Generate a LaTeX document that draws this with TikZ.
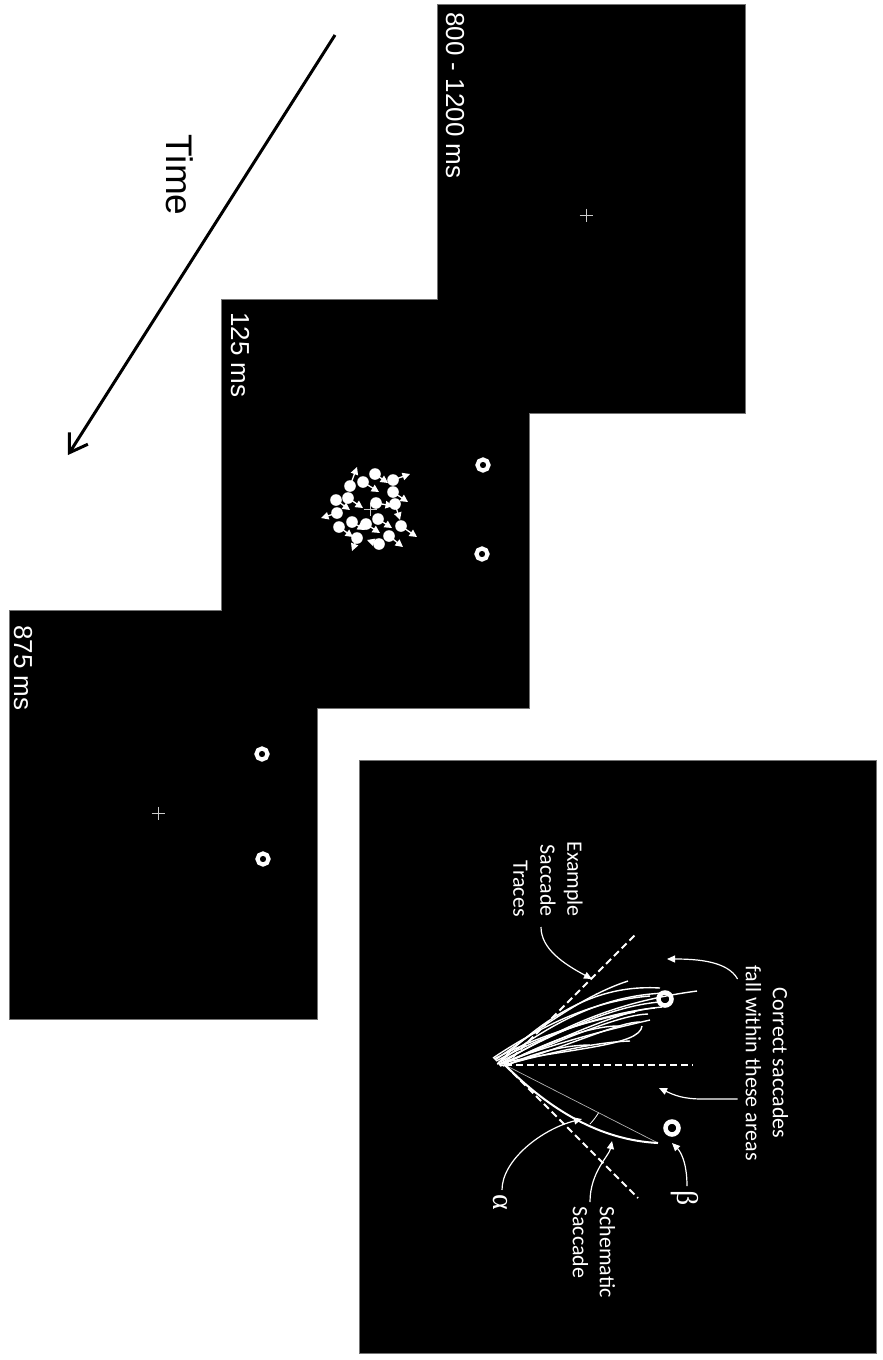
\documentclass[tikz,border=0pt]{standalone}
\usepackage{fontspec}
\setmainfont{Liberation Sans}
\newfontfamily\notefont{Carlito}
\newfontfamily\greekfont{Liberation Serif}
\usetikzlibrary{arrows.meta,calc,positioning,backgrounds}

\begin{document}
\begin{tikzpicture}[
		x=1pt, y=-1pt,
		screen/.style={fill=black, minimum width=307pt, minimum height=408pt,
				inner sep=0pt},
		frame/.style={draw=black!55, line width=1.6pt},
		stamp/.style={text=white, rotate=-90, anchor=west, inner sep=0pt,
				font=\fontsize{26}{30}\selectfont},
		fixmark/.style={draw=white!80!black, line width=0.9pt},
		target/.style={circle, draw=white, line width=4.2pt, minimum size=11pt,
				inner sep=0pt},
		dotarrow/.style={white, line width=1.3pt, -{Triangle[length=7.5pt,width=7.5pt]}},
		note/.style={text=white, rotate=-90, inner sep=0pt,
				font=\notefont\fontsize{22}{27}\selectfont},
		greek/.style={text=white, rotate=-90, inner sep=0pt,
				font=\greekfont\fontsize{30}{30}\selectfont},
		pointer/.style={white, line width=1.2pt, -{Triangle[length=8pt,width=7pt]}},
		bound/.style={white, line width=2pt, dash pattern=on 7pt off 4pt},
		trace/.style={white, line width=1.4pt},
	]
	\useasboundingbox (0,0) rectangle (883,1360);

	% time axis
	\coordinate (t0) at (335,35);
	\coordinate (t1) at (68,455);
	\draw[line width=3pt, -{Straight Barb[length=17pt,width=22pt]}] (t0) -- (t1);
	\node[rotate=-90, font=\fontsize{37}{40}\selectfont] (time) at (180,175) {Time};

	% the three screens of a trial
	\node[screen] (fix) at (591.5,209) {};
	\node[stamp] at (455,12) {800 - 1200 ms};
	\draw[fixmark] (586,215) +(-6.5,0) -- +(6.5,0) +(0,-6.5) -- +(0,6.5);

	\node[screen] (motion) at (375.5,504) {};
	\node[stamp] at (240,312) {125 ms};
	\draw[fixmark] (370,509) +(-6.5,0) -- +(6.5,0) +(0,-6.5) -- +(0,6.5);
	\node[target] (mleft) at (483,465) {};
	\node[target] (mright) at (482,554) {};
	\foreach \dx/\dy/\ax/\ay in {375/474/388/483, 393/480/410/474, 350/486/357/467,
			363/482/379/492, 393/492/408/502, 336/500/350/510, 348/498/363/508,
			376/503/393/506, 395/504/400/520, 337/513/321/518, 378/519/392/528,
			352/522/365/530, 366/524/380/533, 401/526/417/537, 339/527/353/537,
			357/538/352/551, 379/544/367/540, 389/536/403/547}
		{\draw[dotarrow] (\dx,\dy) -- (\ax,\ay);
		 \fill[white] (\dx,\dy) circle (5.8pt);}

	\node[screen] (response) at (163.5,814.5) {};
	\node[stamp] at (23,625) {875 ms};
	\draw[fixmark] (158,813) +(-6.5,0) -- +(6.5,0) +(0,-6.5) -- +(0,6.5);
	\node[target] (rleft) at (262,754) {};
	\node[target] (rright) at (263,859) {};

	% scoring of saccades
	\node[screen, minimum width=516pt, minimum height=592pt] (scoring) at (618,1057) {};
	\begin{scope}[on background layer]
		\draw[frame] (fix.south west) rectangle (fix.north east);
		\draw[frame] (motion.south west) rectangle (motion.north east);
		\draw[frame] (response.south west) rectangle (response.north east);
		\draw[frame, line width=2.4pt] (scoring.south west) rectangle (scoring.north east);
	\end{scope}

	\coordinate (o) at (505,1065);
	\draw[bound] (o) -- (637,933);
	\draw[bound] (o) -- (693,1065);
	\draw[bound] (o) -- (638,1198);

	\foreach \sx/\sy/\ax/\ay/\bx/\by/\ex/\ey in {
			495/1060/545/1025/585/995/628/981, 498/1063/565/1012/615/995/665/993,
			500/1064/575/1018/630/1000/697/991, 500/1062/570/1025/620/1005/660/1002,
			502/1064/580/1030/625/1010/655/1008, 499/1065/575/1035/620/1015/648/1014,
			503/1066/585/1040/620/1022/640/1022, 497/1064/570/1048/640/1046/642/1026,
			500/1066/560/1050/600/1042/630/1041, 504/1064/560/1035/600/1025/622/1026,
			498/1063/560/1002/610/985/660/988, 505/1066/540/1050/570/1045/590/1045,
			493/1058/550/1020/600/1000/650/996, 496/1061/555/1030/610/1012/662/1007,
			501/1063/565/1040/615/1028/650/1020, 494/1059/540/1035/590/1020/635/1012}
		{\draw[trace] (\sx,\sy) .. controls (\ax,\ay) and (\bx,\by) .. (\ex,\ey);}

	\draw[white!70!black, line width=0.7pt] (o) -- (658,1143);
	\draw[white, line width=2pt] (o) .. controls (550,1110) and (600,1140) .. (658,1143);
	\draw[white, line width=0.8pt] (598.6,1112.7) to[bend left=5] (590,1124);

	\node[target, minimum size=13pt, line width=4.5pt] (goal) at (665,999) {};
	\node[target, minimum size=13pt, line width=4.5pt] (other) at (672,1128) {};

	\node[note, align=center] (areas) at (767,1063)
	{Correct saccades\\fall within these areas};
	\node[note, align=right, anchor=east] (examples) at (548,917)
	{Example\\Saccade\\Traces};
	\node[note, align=left, anchor=west] (schematic) at (594,1206)
	{Schematic\\Saccade};
	\node[greek] (alpha) at (500,1202) {α};
	\node[greek] (beta) at (685,1198) {β};

	\coordinate (hitA) at (667,959);
	\coordinate (hitB) at (659,1088);
	\coordinate (hitT) at (592,979);
	\coordinate (hitAl) at (582,1119);
	\coordinate (hitBe) at (672,1143);
	\coordinate (hitS) at (612,1141);

	\draw[pointer] ($(areas.south)+(-8,-84)$) .. controls +(-10,-18) and +(30,0) .. (hitA);
	\draw[pointer] ($(areas.south)+(-8,36)$) -- ++(-35,0)
	.. controls +(-20,0) and +(15,7) .. (hitB);
	\draw[pointer] ($(examples.east)+(-7,10)$) .. controls +(0,22) and +(-28,-15) .. (hitT);
	\draw[pointer] ($(alpha.west)+(2,-4)$) .. controls +(0,-30) and +(-40,10) .. (hitAl);
	\draw[pointer] ($(beta.west)+(2,-4)$) .. controls +(0,-25) and +(8,8) .. (hitBe);
	\draw[pointer] ($(schematic.west)+(-4,-4)$) .. controls +(0,-30) and +(-3,15) .. (hitS);

\end{tikzpicture}
\end{document}
